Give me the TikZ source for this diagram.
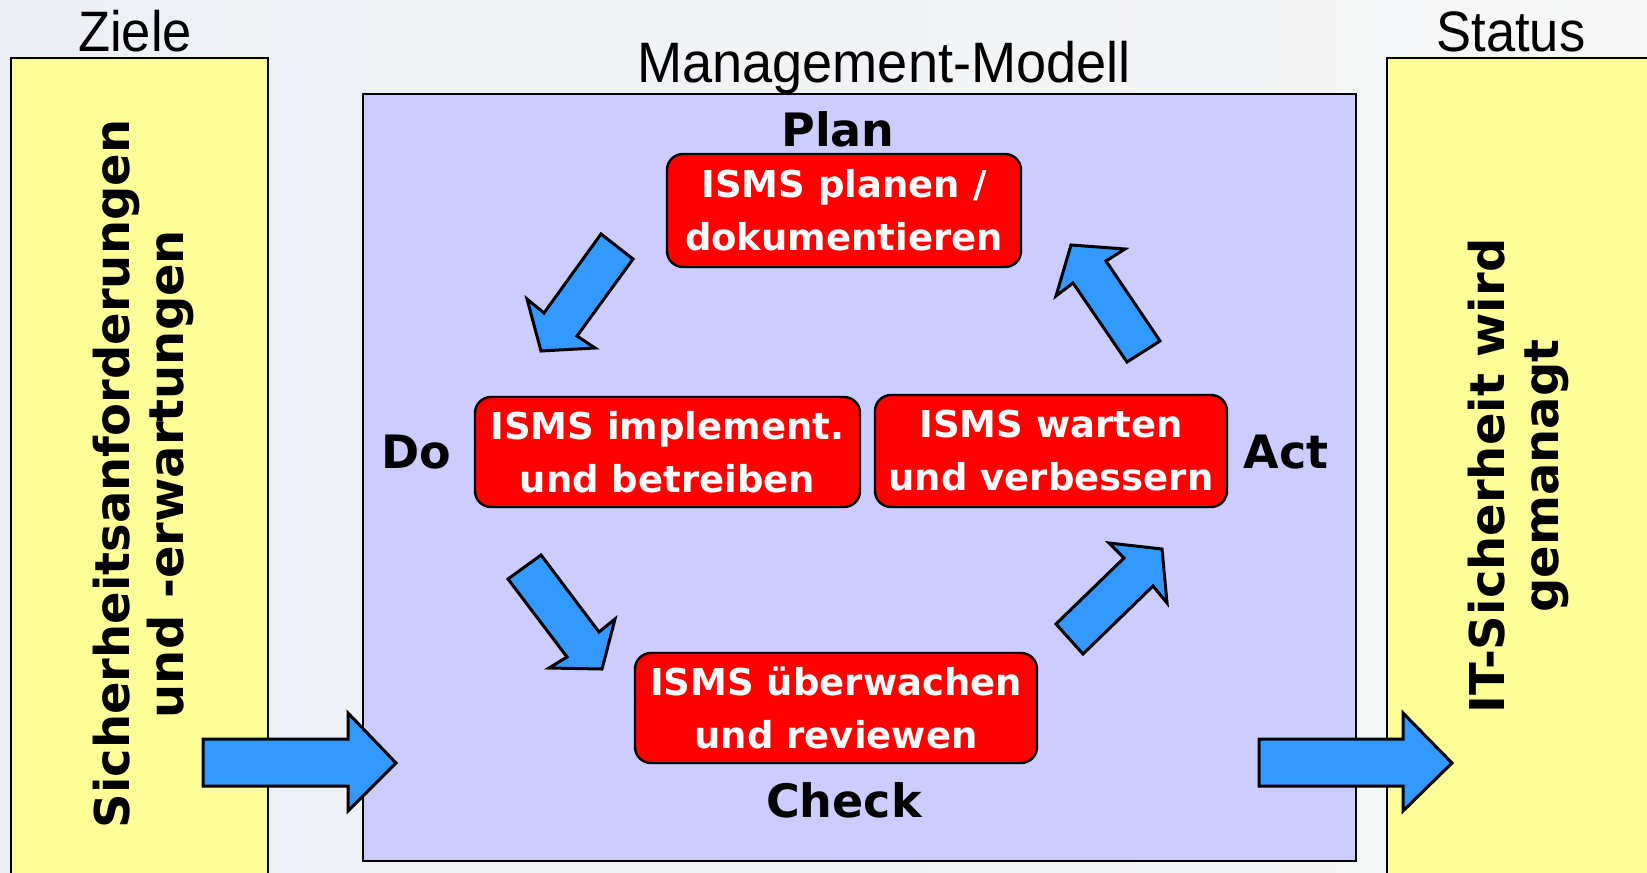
\documentclass[tikz,border=0pt]{standalone}
\usepackage{fontspec}
\setmainfont{DejaVu Sans}
\newfontfamily\titlefont[FakeStretch=0.92]{Liberation Sans}
\newfontfamily\widetitlefont[FakeStretch=0.95]{Liberation Sans}
\definecolor{paper}{RGB}{236,239,244}
\definecolor{paperlight}{RGB}{247,247,247}
\definecolor{goalyellow}{RGB}{255,255,153}
\definecolor{modelblue}{RGB}{204,204,255}
\definecolor{stepred}{RGB}{255,0,0}
\definecolor{flowblue}{RGB}{51,153,255}
\tikzset{
  panel/.style={draw=black, line width=1.2pt},
  stepbox/.style={draw=black, line width=1.2pt, fill=stepred, rounded corners=8pt,
    text=white, font=\fontsize{18.5}{26.5}\selectfont\bfseries, align=center,
    inner sep=0pt},
  phase/.style={font=\fontsize{23}{27}\selectfont\bfseries, anchor=base},
  heading/.style={font=\titlefont\fontsize{28.5}{32}\selectfont, anchor=base},
  sidetext/.style={font=\fontsize{24}{27}\selectfont\bfseries, align=center, rotate=90},
  blockarrow/.style={draw=black, line width=1.5pt, fill=flowblue, line join=miter}
}
\begin{document}
\begin{tikzpicture}[x=0.5pt,y=-0.5pt]
\useasboundingbox (0,0) rectangle (1647,872);
\clip (0,0) rectangle (1647,872);
% background
\shade[left color=paper, right color=paperlight] (0,0) rectangle (1647,872);

% side panels and the model panel
\draw[panel, fill=goalyellow] (11,58) rectangle (268,900);
\draw[panel, fill=goalyellow] (1387,58) rectangle (1660,900);
\draw[panel, fill=modelblue] (363,94) rectangle (1356,861);

% headings
\node[heading] (ziele) at (135,52) {Ziele};
\node[heading] (status) at (1511,52) {Status};
\node[heading, font=\widetitlefont\fontsize{28.5}{32}\selectfont] (modell) at (884,83) {Management-Modell};

% side texts
\node[sidetext] (req) at (143,474) {Sicherheitsanforderungen\\und -erwartungen};
\node[sidetext] (res) at (1518,476) {IT-Sicherheit wird\\gemanagt};

% input and output arrows
\draw[blockarrow] (203,739) -- (348,739) -- (348,713) -- (396,763) -- (348,811) -- (348,786) -- (203,786) -- cycle;
\draw[blockarrow] (1259,739) -- (1403,739) -- (1403,713) -- (1452,763) -- (1403,811) -- (1403,786) -- (1259,786) -- cycle;

% cycle arrows
\draw[blockarrow] (601,234) -- (633,259) -- (577,336) -- (595,348) -- (541,351) -- (527,299) -- (544,313) -- cycle;
\draw[blockarrow] (541,555) -- (599,632) -- (615,619) -- (602,669) -- (549,668) -- (567,657) -- (508,579) -- cycle;
\draw[blockarrow] (1056,624) -- (1124,558) -- (1109,543) -- (1162,549) -- (1167,603) -- (1153,586) -- (1083,654) -- cycle;
\draw[blockarrow] (1160,341) -- (1106,261) -- (1125,249) -- (1071,245) -- (1056,296) -- (1073,283) -- (1127,362) -- cycle;

% PDCA steps
\node[stepbox, minimum width=177pt, minimum height=56.5pt] (plan) at (844,210.5) {ISMS planen /\\dokumentieren};
\node[stepbox, minimum width=192.5pt, minimum height=55pt] (do) at (667.5,452) {ISMS implement.\\und betreiben};
\node[stepbox, minimum width=176pt, minimum height=56pt] (act) at (1051,451) {ISMS warten\\und verbessern};
\node[stepbox, minimum width=201pt, minimum height=55pt] (check) at (836,708) {ISMS überwachen\\und reviewen};

% phase labels
\node[phase] (lplan) at (838,147) {Plan};
\node[phase] (ldo) at (416,468) {Do};
\node[phase] (lact) at (1286,468) {Act};
\node[phase] (lcheck) at (844,817) {Check};
\end{tikzpicture}
\end{document}
